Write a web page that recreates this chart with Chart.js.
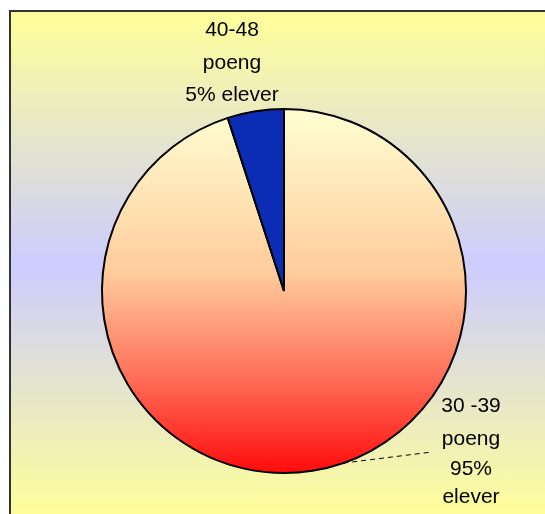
<!DOCTYPE html>
<html>
<head>
<meta charset="utf-8">
<script src="https://cdn.jsdelivr.net/npm/chart.js@4/dist/chart.umd.min.js"></script>
<style>
    body { margin: 0; background: #fff; overflow: hidden; }
    #frame {
        position: absolute; left: 9px; top: 10px;
        width: 540px; height: 506px;
        border-top: 2px solid #333; border-left: 2px solid #333;
        background: linear-gradient(to bottom, #ffff99 0%, #ccccff 50%, #ffff99 100%);
    }
    #box { position: absolute; left: 0; top: 0; width: 534px; height: 502px; }
</style>
</head>
<body>
<div id="frame"><div id="box"><canvas id="pie"></canvas></div></div>
<script>
// Score groups and share of pupils
const groups = ['30 -39 poeng', '40-48 poeng'];
const shares = [95, 5];
const labelLines = [
    ['30 -39', 'poeng', '95%', 'elever'],
    ['40-48', 'poeng', '5% elever']
];

// where each label sits, relative to the pie centre (px)
const labelPlace = [
    { dx: 187, ys: [115, 148, 178, 206] },
    { dx: -52, ys: [-261, -228, -196] }
];

function sliceFill(ctx) {
    if (ctx.dataIndex === 1) return '#0b2cb4';
    const chart = ctx.chart;
    const area = chart.chartArea;
    if (!area) return '#ffcc99';
    const g = chart.ctx.createLinearGradient(0, area.top, 0, area.bottom);
    g.addColorStop(0, '#ffffd2');
    g.addColorStop(0.45, '#ffcc9c');
    g.addColorStop(0.75, '#ff6a55');
    g.addColorStop(1, '#ff0a0a');
    return g;
}

const pieLabels = {
    id: 'pieLabels',
    afterDraw(chart) {
        const c = chart.ctx;
        const arcs = chart.getDatasetMeta(0).data;
        const cx = arcs[0].x, cy = arcs[0].y, r = arcs[0].outerRadius;
        c.save();
        // leader line for the big slice
        const a = -Math.PI / 2 + 161 * Math.PI / 180;
        c.setLineDash([5, 4]);
        c.strokeStyle = '#000';
        c.lineWidth = 1;
        c.beginPath();
        c.moveTo(cx + r * Math.cos(a), cy + r * Math.sin(a));
        c.lineTo(cx + 148, cy + 161);
        c.stroke();
        c.setLineDash([]);

        c.fillStyle = '#000';
        c.font = '21px "Liberation Sans", Arial, sans-serif';
        c.textAlign = 'center';
        c.textBaseline = 'middle';
        labelLines.forEach((lines, i) => {
            const p = labelPlace[i];
            lines.forEach((t, j) => c.fillText(t, cx + p.dx, cy + p.ys[j]));
        });
        c.restore();
    }
};

new Chart(document.getElementById('pie'), {
    type: 'pie',
    data: {
        labels: groups,
        datasets: [{
            data: shares,
            backgroundColor: sliceFill,
            borderColor: '#000',
            borderWidth: 2
        }]
    },
    options: {
        responsive: true,
        maintainAspectRatio: false,
        animation: false,
        layout: { padding: { left: 90, right: 78, top: 96, bottom: 40 } },
        plugins: {
            legend: { display: false },
            tooltip: { enabled: false }
        }
    },
    plugins: [pieLabels]
});
</script>
</body>
</html>
